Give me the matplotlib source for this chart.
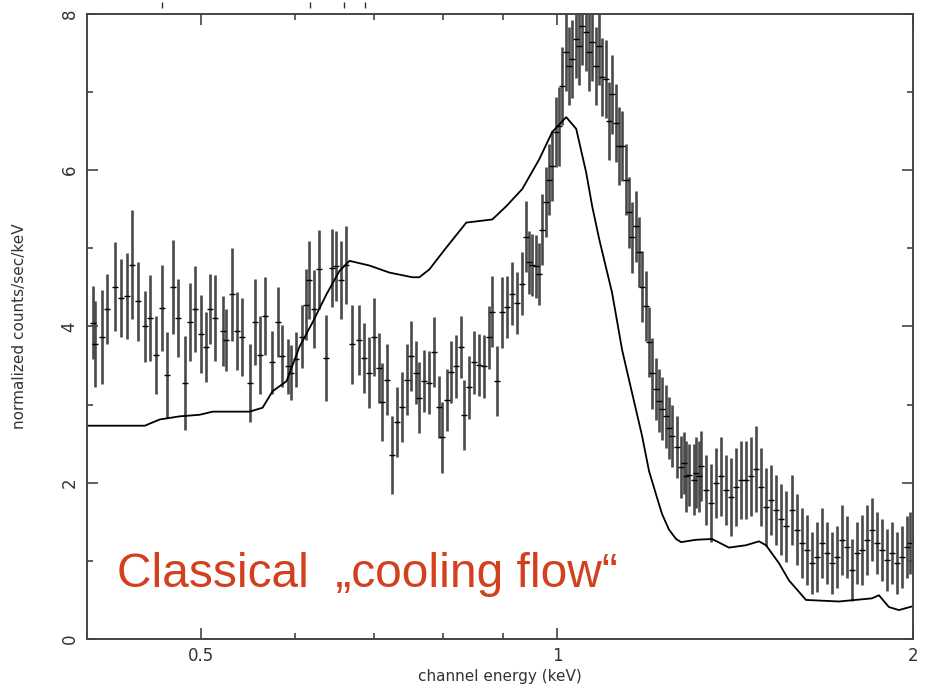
import numpy as np
import matplotlib
matplotlib.use("Agg")
import matplotlib.pyplot as plt
from matplotlib.ticker import FixedLocator, NullFormatter

# Spectrum data points (channel energy in keV, normalized counts/sec/keV, 1-sigma error)
energy = [0.4045, 0.4061, 0.4117, 0.4158, 0.4223, 0.4272, 0.4323, 0.4365, 0.4416, 0.4477,
          0.4520, 0.4574, 0.4628, 0.4673, 0.4728, 0.4774, 0.4839, 0.4886, 0.4934, 0.4992,
          0.5041, 0.5080, 0.5130, 0.5210, 0.5241, 0.5302, 0.5354, 0.5407, 0.5491, 0.5545,
          0.5599, 0.5654, 0.5731, 0.5799, 0.5855, 0.5913, 0.5958, 0.6017, 0.6076, 0.6135,
          0.6171, 0.6231, 0.6292, 0.6378, 0.6453, 0.6504, 0.6568, 0.6632,
          0.6710, 0.6802, 0.6869, 0.6936, 0.7004, 0.7073, 0.7114, 0.7183, 0.7253, 0.7324,
          0.7396, 0.7468, 0.7527, 0.7600, 0.7644, 0.7719, 0.7794, 0.7870, 0.7947, 0.7993,
          0.8071, 0.8135, 0.8214, 0.8295, 0.8343, 0.8424, 0.8508, 0.8591, 0.8676, 0.8761,
          0.8813, 0.8898, 0.8986, 0.9073, 0.9162, 0.9251, 0.9342, 0.9415, 0.9469, 0.9525,
          0.9599, 0.9656, 0.9712, 0.9788, 0.9845, 0.9903, 0.9981, 1.0039, 1.0098, 1.0177,
          1.0236, 1.0296, 1.0377, 1.0438, 1.0498, 1.0581, 1.0643, 1.0705, 1.0789, 1.0852,
          1.0915, 1.1000, 1.1065, 1.1129, 1.1216, 1.1282, 1.1348, 1.1436, 1.1503, 1.1570,
          1.1661, 1.1729, 1.1798, 1.1890, 1.1959, 1.2030, 1.2124, 1.2194, 1.2266, 1.2362,
          1.2434, 1.2507, 1.2630, 1.2729, 1.2803, 1.2853, 1.2928, 1.3055, 1.3106, 1.3183,
          1.3234, 1.3365, 1.3495, 1.3626, 1.3759, 1.3894, 1.4030, 1.4166, 1.4304, 1.4445,
          1.4588, 1.4730, 1.4873, 1.5021, 1.5167, 1.5315, 1.5464, 1.5618, 1.5799, 1.5956,
          1.6112, 1.6268, 1.6430, 1.6590, 1.6749, 1.6912, 1.7081, 1.7247, 1.7415, 1.7584,
          1.7759, 1.7932, 1.8106, 1.8281, 1.8464, 1.8643, 1.8824, 1.9011, 1.9196, 1.9382,
          1.9570, 1.9765, 1.9879]
counts = [4.05, 3.77, 3.87, 4.22, 4.51, 4.37, 4.39, 4.79, 4.32, 4.00,
          4.11, 3.64, 4.24, 3.38, 4.51, 4.11, 3.28, 4.06, 4.22, 3.90,
          3.74, 4.22, 4.11, 3.94, 3.83, 4.41, 3.94, 3.87, 3.28, 4.06,
          3.64, 4.13, 3.54, 4.06, 3.62, 3.49, 3.41, 3.58, 3.87, 4.28,
          4.60, 4.22, 4.73, 3.60, 4.75, 4.77, 4.60, 4.79,
          3.77, 3.83, 3.60, 3.41, 3.87, 3.47, 3.03, 3.32, 2.36, 2.78,
          2.97, 3.32, 3.62, 3.41, 3.09, 3.30, 3.28, 3.67, 2.97, 2.58,
          3.06, 3.42, 3.49, 3.74, 2.87, 3.22, 3.54, 3.51, 3.49, 3.86,
          4.19, 3.30, 4.18, 4.25, 4.42, 4.30, 4.55, 5.15, 4.82, 4.79,
          4.77, 4.67, 5.24, 5.59, 5.88, 6.05, 6.49, 6.56, 7.08, 7.51,
          7.33, 7.42, 7.68, 7.59, 7.85, 7.77, 7.51, 7.64, 7.33, 7.59,
          7.19, 7.17, 6.63, 6.97, 6.61, 6.31, 6.31, 5.88, 5.46, 5.14,
          5.28, 4.95, 4.51, 4.26, 3.80, 3.40, 3.20, 3.05, 2.95, 2.85,
          2.70, 2.60, 2.46, 2.20, 2.25, 2.08, 2.10, 2.04, 2.13, 2.08,
          2.21, 1.91, 1.74, 2.00, 2.08, 1.91, 1.82, 1.95, 2.04, 2.04,
          2.08, 2.17, 1.95, 1.69, 1.78, 1.65, 1.53, 1.44, 1.65, 1.40,
          1.23, 1.14, 0.97, 1.05, 1.23, 1.10, 0.97, 1.05, 1.27, 1.18,
          0.88, 1.10, 1.14, 1.27, 1.40, 1.23, 1.14, 1.01, 1.10, 0.97,
          1.05, 1.18, 1.23]
errors = [0.47, 0.55, 0.60, 0.45, 0.57, 0.50, 0.55, 0.70, 0.50, 0.45,
          0.55, 0.50, 0.55, 0.55, 0.60, 0.50, 0.60, 0.50, 0.55, 0.50,
          0.45, 0.45, 0.55, 0.45, 0.40, 0.60, 0.50, 0.50, 0.50, 0.55,
          0.50, 0.50, 0.40, 0.45, 0.40, 0.35, 0.35, 0.35, 0.40, 0.45,
          0.50, 0.50, 0.50, 0.55, 0.50, 0.45, 0.50, 0.50,
          0.50, 0.45, 0.45, 0.45, 0.50, 0.45, 0.50, 0.45, 0.50, 0.45,
          0.45, 0.45, 0.45, 0.40, 0.45, 0.40, 0.40, 0.45, 0.40, 0.45,
          0.40, 0.40, 0.40, 0.40, 0.45, 0.40, 0.40, 0.40, 0.40, 0.40,
          0.45, 0.45, 0.45, 0.40, 0.40, 0.40, 0.40, 0.45, 0.40, 0.40,
          0.40, 0.40, 0.45, 0.45, 0.45, 0.45, 0.45, 0.50, 0.50, 0.50,
          0.50, 0.50, 0.50, 0.50, 0.50, 0.50, 0.50, 0.50, 0.50, 0.50,
          0.50, 0.50, 0.50, 0.50, 0.50, 0.50, 0.45, 0.45, 0.45, 0.45,
          0.45, 0.45, 0.45, 0.45, 0.45, 0.45, 0.40, 0.40, 0.40, 0.40,
          0.40, 0.40, 0.40, 0.40, 0.40, 0.45, 0.40, 0.45, 0.45, 0.45,
          0.45, 0.45, 0.50, 0.45, 0.50, 0.45, 0.50, 0.50, 0.50, 0.50,
          0.50, 0.55, 0.50, 0.50, 0.45, 0.45, 0.45, 0.45, 0.45, 0.45,
          0.45, 0.45, 0.40, 0.45, 0.45, 0.40, 0.40, 0.40, 0.45, 0.40,
          0.40, 0.40, 0.45, 0.45, 0.40, 0.40, 0.40, 0.40, 0.40, 0.40,
          0.40, 0.40, 0.40]

# Model curve (cooling flow prediction)
model_energy = [0.4000, 0.4477, 0.4610, 0.4793, 0.4982, 0.5110, 0.5491, 0.5632, 0.5742, 0.5901,
                0.6052, 0.6207, 0.6378, 0.6542, 0.6672, 0.6936, 0.7211, 0.7542, 0.7644, 0.7794,
                0.8056, 0.8377, 0.8813, 0.9056, 0.9342, 0.9656, 0.9903, 1.0177, 1.0377, 1.0581,
                1.0705, 1.0852, 1.1129, 1.1348, 1.1570, 1.1798, 1.1959, 1.2124, 1.2266, 1.2434,
                1.2606, 1.2729, 1.3106, 1.3521, 1.3975, 1.4445, 1.4817, 1.5021, 1.5406, 1.5708,
                1.6238, 1.7314, 1.8464, 1.8717, 1.9082, 1.9458, 2.0000]
model_counts = [2.73, 2.73, 2.81, 2.85, 2.87, 2.91, 2.91, 2.96, 3.17, 3.30,
                3.74, 4.05, 4.41, 4.71, 4.84, 4.78, 4.69, 4.63, 4.63, 4.73,
                5.01, 5.33, 5.37, 5.54, 5.76, 6.14, 6.49, 6.68, 6.53, 5.97,
                5.54, 5.12, 4.43, 3.70, 3.15, 2.60, 2.15, 1.85, 1.60, 1.40,
                1.28, 1.24, 1.27, 1.28, 1.17, 1.20, 1.25, 1.20, 0.97, 0.75,
                0.50, 0.48, 0.52, 0.56, 0.41, 0.37, 0.42]

# Line identification marks above the frame
line_ids = [0.4628, 0.6183, 0.6605, 0.6882]

x_major = [0.5, 1, 2]
x_major_labels = ["0.5", "1", "2"]
x_minor = [0.6, 0.7, 0.8, 0.9]
y_major = [0, 2, 4, 6, 8]
y_minor = [1, 3, 5, 7]

label_color = "#333333"
frame_color = "#444444"


def plot_spectrum():
    fig = plt.figure(figsize=(9.33, 6.92), dpi=100)
    ax = fig.add_axes([0.0932, 0.0766, 0.8853, 0.9032])

    ax.errorbar(energy, counts, yerr=errors, fmt="_", color="black", markersize=5,
                ecolor="#4a4a4a", elinewidth=1.9, capsize=0, markeredgewidth=1.0)
    ax.plot(model_energy, model_counts, color="black", lw=1.3)

    ax.set_xscale("log")
    ax.set_xlim(0.4, 2.0)
    ax.set_ylim(0, 8)

    ax.xaxis.set_major_locator(FixedLocator(x_major))
    ax.set_xticklabels(x_major_labels)
    ax.xaxis.set_minor_locator(FixedLocator(x_minor))
    ax.xaxis.set_minor_formatter(NullFormatter())
    ax.yaxis.set_major_locator(FixedLocator(y_major))
    ax.yaxis.set_minor_locator(FixedLocator(y_minor))
    ax.set_yticklabels([str(v) for v in y_major], rotation=90, va="center")

    ax.tick_params(which="both", direction="in", top=True, right=True,
                   color=frame_color, labelcolor=label_color, labelsize=12, width=1.2)
    ax.tick_params(which="major", length=8, pad=6)
    ax.tick_params(which="minor", length=4)
    for sp in ax.spines.values():
        sp.set_color(frame_color)
        sp.set_linewidth(1.4)

    ax.set_xlabel("channel energy (keV)", fontsize=11, color=label_color, labelpad=3)
    ax.set_ylabel("normalized counts/sec/keV", fontsize=11, color=label_color, labelpad=24)

    # small line-ID ticks above the frame
    trans = ax.get_xaxis_transform()
    ax.plot(line_ids, [1.014] * len(line_ids), "|", color="#333333", markersize=4,
            transform=trans, clip_on=False)

    ax.text(0.036, 0.083, "Classical  \u201ecooling flow\u201c", transform=ax.transAxes,
            fontsize=34.5, color="#d2401e", family="Liberation Sans", va="baseline", ha="left")

    fig.savefig("out.png", dpi=100)


if __name__ == "__main__":
    plot_spectrum()
